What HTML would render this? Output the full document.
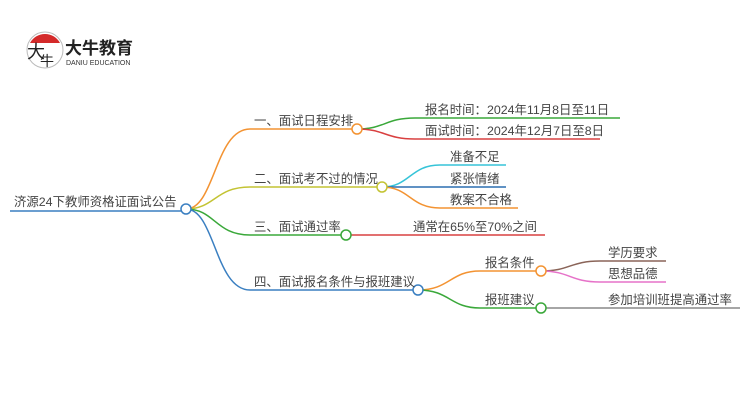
<!DOCTYPE html>
<html><head><meta charset="utf-8"><style>
body{margin:0;background:#fff;width:750px;height:410px;overflow:hidden}
text{font-family:"Liberation Sans","Noto Sans CJK SC",sans-serif;font-size:12.4px;fill:#444}
</style></head><body>
<svg width="750" height="410" viewBox="0 0 750 410" xmlns="http://www.w3.org/2000/svg">
<path d="M30 43 A17 17 0 0 1 60 43 Z" fill="#d42a2a"/>
<circle cx="45" cy="50" r="18" fill="none" stroke="#bbb" stroke-width="1"/>
<text x="27" y="58" style="font-size:18px;fill:#222">大</text>
<text x="40" y="66" style="font-size:14px;fill:#222">牛</text>
<text x="65" y="54" style="font-size:17px;font-weight:bold;fill:#222">大牛教育</text>
<text x="66" y="65" style="font-size:7px;fill:#333">DANIU EDUCATION</text>
<g fill="none" stroke-width="1.5">
<path d="M10 211 H186" stroke="#3a7fc1"/>
<path d="M186 209 C215 209,215 129,250 129 H357" stroke="#f39332"/>
<path d="M186 209 C215 209,215 187,250 187 H382" stroke="#c3c333"/>
<path d="M186 209 C215 209,215 235,250 235 H346" stroke="#3aa83a"/>
<path d="M186 209 C215 209,215 290,250 290 H418" stroke="#3a7fc1"/>
<path d="M357 129 C385 129,385 118,415 118 H620" stroke="#3aa83a"/>
<path d="M357 129 C385 129,385 139,415 139 H600" stroke="#d94040"/>
<path d="M382 187 C410 187,410 165,440 165 H506" stroke="#36c4d8"/>
<path d="M382 187 H506" stroke="#2c6eb0"/>
<path d="M382 187 C410 187,410 208,440 208 H518" stroke="#f39332"/>
<path d="M346 235 H545" stroke="#d94040"/>
<path d="M418 290 C450 290,450 271,480 271 H541" stroke="#f39332"/>
<path d="M418 290 C450 290,450 308,480 308 H541" stroke="#3aa83a"/>
<path d="M541 271 C570 271,570 261,600 261 H666" stroke="#8a6458"/>
<path d="M541 271 C570 271,570 282,600 282 H666" stroke="#e672c8"/>
<path d="M541 308 H740" stroke="#888"/>
</g>
<g fill="#fff" stroke-width="1.5">
<circle cx="186" cy="209" r="5" stroke="#3a7fc1"/>
<circle cx="357" cy="129" r="5" stroke="#f39332"/>
<circle cx="382" cy="187" r="5" stroke="#c3c333"/>
<circle cx="346" cy="235" r="5" stroke="#3aa83a"/>
<circle cx="418" cy="290" r="5" stroke="#3a7fc1"/>
<circle cx="541" cy="271" r="5" stroke="#f39332"/>
<circle cx="541" cy="308" r="5" stroke="#3aa83a"/>
</g>
<text x="14" y="206">济源24下教师资格证面试公告</text>
<text x="254" y="125">一、面试日程安排</text>
<text x="425" y="114">报名时间：2024年11月8日至11日</text>
<text x="425" y="135">面试时间：2024年12月7日至8日</text>
<text x="254" y="183">二、面试考不过的情况</text>
<text x="450" y="161">准备不足</text>
<text x="450" y="183">紧张情绪</text>
<text x="450" y="204">教案不合格</text>
<text x="254" y="231">三、面试通过率</text>
<text x="413" y="231">通常在65%至70%之间</text>
<text x="254" y="286">四、面试报名条件与报班建议</text>
<text x="485" y="267">报名条件</text>
<text x="485" y="304">报班建议</text>
<text x="608" y="257">学历要求</text>
<text x="608" y="278">思想品德</text>
<text x="608" y="304">参加培训班提高通过率</text>
</svg>
</body></html>
